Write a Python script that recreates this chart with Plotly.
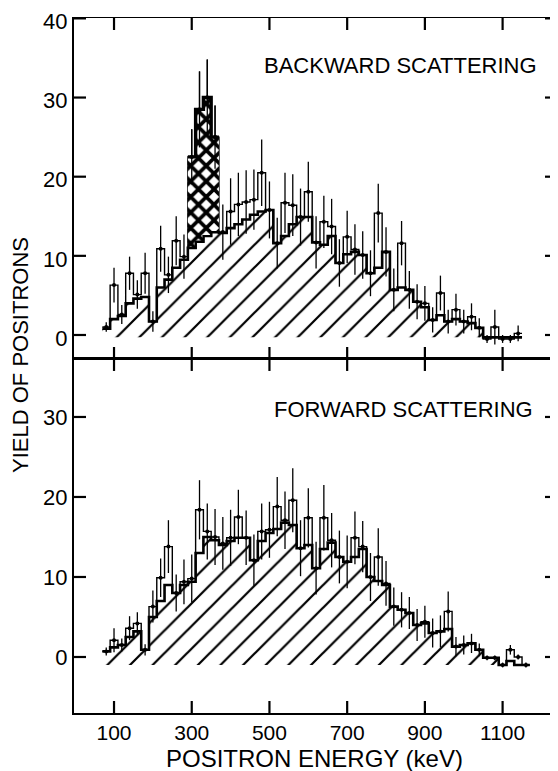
import plotly.graph_objects as go

# bin centres (keV), 20 keV wide channels
back_energy = list(range(80, 1141, 20))
fwd_energy = list(range(80, 1161, 20))

# backward scattering: yield per channel, error, and top of the hatched part
back_yield = [
    1.0, 6.3, 2.6, 7.8, 5.1, 7.8, 1.7, 10.9, 7.6, 11.9,
    9.9, 22.5, 28.5, 30.0, 25.0, 13.0, 15.6, 16.5, 16.8, 17.1,
    20.5, 15.8, 11.6, 16.7, 16.4, 14.9, 18.1, 11.7, 14.3, 13.7,
    9.1, 12.4, 10.8, 10.1, 7.8, 15.4, 10.5, 5.7, 11.6, 5.7,
    4.2, 4.0, 1.9, 5.3, 1.7, 3.2, 1.7, 2.3, 0.9, -0.5,
    1.0, -0.5, -0.5, 0.2]
back_err = [
    0.6, 2.2, 1.2, 2.1, 1.8, 2.6, 1.3, 2.9, 2.3, 3.1,
    2.8, 3.5, 4.8, 4.8, 4.0, 3.5, 4.2, 4.0, 4.0, 3.8,
    4.2, 3.6, 3.2, 3.8, 3.9, 3.6, 3.8, 3.3, 3.3, 3.5,
    3.0, 3.3, 3.2, 3.0, 2.9, 3.7, 3.1, 2.7, 2.8, 2.4,
    2.2, 2.2, 1.6, 2.2, 1.5, 2.0, 1.5, 1.7, 1.2, 0.5,
    2.2, 0.5, 0.5, 1.0]
back_floor = [
    0.8, 2.0, 2.4, 4.0, 4.6, 4.8, 1.7, 6.0, 7.0, 8.5,
    9.5, 11.0, 11.8, 12.5, 13.0, 12.9, 13.5, 14.0, 14.6, 15.2,
    15.6, 15.8, 11.6, 12.5, 14.0, 14.9, 14.9, 11.7, 11.4, 12.5,
    9.1, 10.2, 10.5, 10.1, 7.8, 8.5, 10.5, 5.7, 6.0, 5.7,
    4.2, 3.5, 1.9, 2.5, 1.7, 2.0, 1.7, 1.5, 0.9, -0.3,
    -0.3, -0.3, -0.3, -0.3]
peak_energy = [300, 320, 340, 360]

# forward scattering
fwd_yield = [
    0.7, 2.1, 1.5, 3.6, 4.2, 0.9, 6.3, 9.9, 13.8, 8.0,
    9.4, 9.8, 18.4, 15.7, 15.0, 14.2, 14.9, 17.5, 14.9, 12.1,
    15.7, 15.9, 18.8, 17.1, 19.6, 13.6, 17.4, 11.1, 17.4, 14.6,
    12.5, 11.9, 14.9, 13.8, 10.0, 12.5, 9.2, 6.3, 5.9, 5.5,
    4.0, 4.4, 3.0, 3.2, 5.7, 1.3, 1.5, 1.7, 0.9, -0.1,
    -0.1, -1.0, 0.9, 0.0, -1.0]
fwd_err = [
    0.5, 1.5, 0.8, 1.5, 1.4, 0.7, 2.0, 2.4, 3.3, 2.3,
    2.8, 3.0, 3.7, 3.5, 3.5, 3.3, 3.5, 3.4, 3.4, 3.2,
    3.5, 3.5, 3.7, 3.6, 4.0, 3.5, 3.7, 3.3, 4.1, 3.4,
    3.3, 3.3, 3.3, 3.2, 3.0, 3.6, 2.8, 2.4, 2.2, 2.0,
    2.0, 2.0, 1.8, 2.0, 2.5, 1.2, 1.2, 1.2, 0.8, 0.3,
    0.3, 0.3, 0.6, 0.3, 0.3]
fwd_floor = [
    0.7, 1.2, 1.5, 2.5, 3.2, 0.9, 5.0, 7.0, 9.0, 8.0,
    9.0, 9.4, 13.0, 15.0, 14.6, 14.0, 14.5, 14.9, 14.9, 12.1,
    14.5, 15.5, 16.0, 16.8, 16.5, 13.6, 14.0, 11.1, 13.5, 14.3,
    12.5, 11.9, 12.5, 13.5, 10.0, 9.5, 9.0, 6.3, 5.9, 5.5,
    4.0, 4.2, 3.0, 3.2, 3.5, 1.3, 1.5, 1.7, 0.9, -0.1,
    -0.1, -1.0, -0.5, -1.0, -1.0]

xticks = [100, 300, 500, 700, 900, 1100]
back_yticks = [0, 10, 20, 30, 40]
fwd_yticks = [0, 10, 20, 30]

BIN = 20
FONT = "Liberation Sans, Arial, sans-serif"
X_RANGE = [-3, 1240]
FWD_RANGE = [-7.0, 37.25]
BACK_RANGE = [-3.03, 40.05]


def steps(centres, vals):
    # turn channel values into a stepped outline
    xs, ys = [], []
    for c, v in zip(centres, vals):
        xs += [c - BIN / 2, c + BIN / 2]
        ys += [v, v]
    return xs, ys


hatch = dict(shape="/", size=16, solidity=0.14, fgcolor="black", bgcolor="white")
cross = dict(shape="x", size=11, solidity=0.55, fgcolor="black", bgcolor="white")

fig = go.Figure()


def add_panel(energy, yld, err, floor, base, xa, ya):
    # invisible baseline for the hatched area
    fig.add_trace(go.Scatter(x=[energy[0] - BIN / 2, energy[-1] + BIN / 2], y=[base, base],
                             mode="lines", line=dict(width=0), xaxis=xa, yaxis=ya,
                             hoverinfo="skip"))
    fx, fy = steps(energy, floor)
    fig.add_trace(go.Scatter(x=fx, y=fy, mode="lines", fill="tonexty", fillpattern=hatch,
                             fillcolor="white", line=dict(color="black", width=2.6),
                             xaxis=xa, yaxis=ya))
    vx, vy = steps(energy, yld)
    fig.add_trace(go.Scatter(x=vx, y=vy, mode="lines", line=dict(color="black", width=1.4),
                             xaxis=xa, yaxis=ya))
    fig.add_trace(go.Scatter(x=energy, y=yld, mode="markers",
                             marker=dict(color="black", size=4),
                             error_y=dict(type="data", array=err, color="black",
                                          thickness=1.3, width=0),
                             xaxis=xa, yaxis=ya))


add_panel(back_energy, back_yield, back_err, back_floor, -0.3, "x2", "y2")

# cross-hatched peak in the backward spectrum
pk_floor = [f for e, f in zip(back_energy, back_floor) if e in peak_energy]
pk_yield = [v for e, v in zip(back_energy, back_yield) if e in peak_energy]
px_, py_ = steps(peak_energy, pk_floor)
fig.add_trace(go.Scatter(x=px_, y=py_, mode="lines", line=dict(color="black", width=2),
                         xaxis="x2", yaxis="y2"))
px_, py_ = steps(peak_energy, pk_yield)
fig.add_trace(go.Scatter(x=px_, y=py_, mode="lines", fill="tonexty", fillpattern=cross,
                         fillcolor="white", line=dict(color="black", width=3.4),
                         xaxis="x2", yaxis="y2"))
fig.add_trace(go.Scatter(x=peak_energy, y=pk_yield, mode="markers",
                         marker=dict(color="black", size=4),
                         error_y=dict(type="data", array=[3.5, 4.8, 4.8, 4.0], color="black",
                                      thickness=1.3, width=0),
                         xaxis="x2", yaxis="y2"))

add_panel(fwd_energy, fwd_yield, fwd_err, fwd_floor, -1.0, "x", "y")

split = 0.5094
PLOT_W, FWD_H, BACK_H = 483, 354, 341
TL = 12  # tick length in px

# inward tick marks on all four sides, one short segment per tick
for xa, ya, yt, yr, hpx in [("x", "y", fwd_yticks, FWD_RANGE, FWD_H),
                            ("x2", "y2", back_yticks, BACK_RANGE, BACK_H)]:
    dx = TL * (X_RANGE[1] - X_RANGE[0]) / PLOT_W
    dy = TL * (yr[1] - yr[0]) / hpx
    segs = []
    for tv in xticks:
        segs += [([tv, tv], [yr[0], yr[0] + dy]), ([tv, tv], [yr[1], yr[1] - dy])]
    for tv in yt:
        segs += [([X_RANGE[0], X_RANGE[0] + dx], [tv, tv]),
                 ([X_RANGE[1], X_RANGE[1] - dx], [tv, tv])]
    for sx, sy in segs:
        fig.add_trace(go.Scatter(x=sx, y=sy, mode="lines",
                                 line=dict(color="black", width=2.2),
                                 hoverinfo="skip", xaxis=xa, yaxis=ya))

axis_style = dict(ticks="", showline=True, linecolor="black", mirror=True,
                  showgrid=False, zeroline=False, tickmode="array",
                  ticklabeloverflow="allow")

# page body has an 8px margin, so the figure is 8px smaller than the window
fig.update_layout(
    template="none",
    width=550, height=763,
    margin=dict(l=66, r=1, t=10, b=58),
    paper_bgcolor="white", plot_bgcolor="white",
    showlegend=False,
    xaxis=dict(axis_style, range=X_RANGE, anchor="y", domain=[0, 1], linewidth=2,
               tickvals=xticks, ticktext=[str(v) for v in xticks],
               tickfont=dict(family=FONT, size=21, color="black")),
    xaxis2=dict(axis_style, range=X_RANGE, anchor="y2", domain=[0, 1], linewidth=1,
                tickvals=xticks, showticklabels=False),
    yaxis=dict(axis_style, range=FWD_RANGE, domain=[0, split], anchor="x",
               linewidth=2, tickvals=fwd_yticks,
               tickfont=dict(family=FONT, size=22, color="black")),
    yaxis2=dict(axis_style, range=BACK_RANGE, domain=[split, 1], anchor="x2",
                linewidth=2, tickvals=back_yticks, ticklabelshift=3,
                tickfont=dict(family=FONT, size=22, color="black")),
)

txt = dict(family=FONT, size=22, color="black")
fig.add_annotation(text="BACKWARD SCATTERING", xref="paper", yref="paper",
                   x=0.677, y=0.932, xanchor="center", yanchor="middle",
                   showarrow=False, font=txt)
fig.add_annotation(text="FORWARD SCATTERING", xref="paper", yref="paper",
                   x=0.683, y=0.436, xanchor="center", yanchor="middle",
                   showarrow=False, font=txt)
fig.add_annotation(text="YIELD OF POSITRONS", xref="paper", yref="paper",
                   x=-0.112, y=0.515, textangle=-90, showarrow=False,
                   xanchor="center", yanchor="middle", font=txt)
fig.add_annotation(text="POSITRON ENERGY (keV)", xref="paper", yref="paper",
                   x=0.497, y=-0.065, showarrow=False, xanchor="center",
                   yanchor="middle", font=dict(family=FONT, size=24, color="black"))

fig.write_html("out.html")
